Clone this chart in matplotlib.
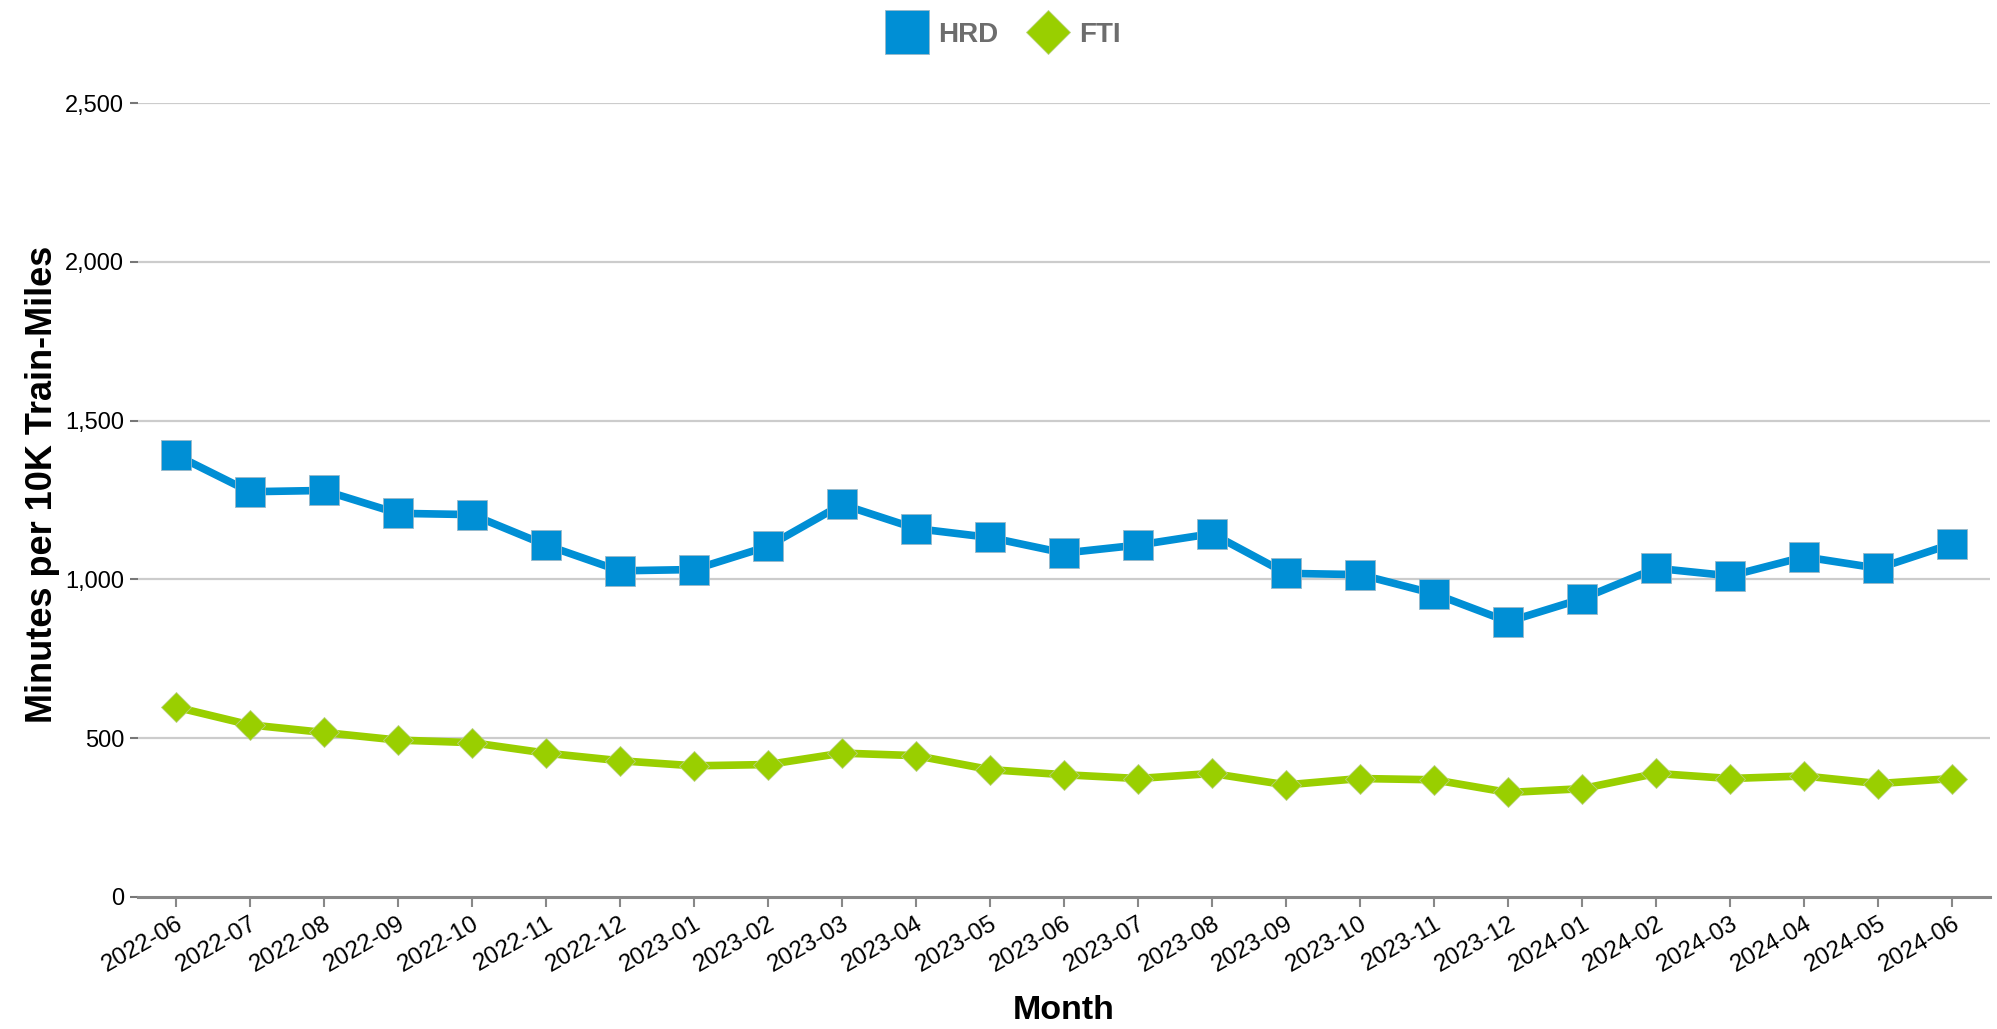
import numpy as np
import matplotlib.pyplot as plt
from matplotlib.ticker import FuncFormatter

plt.rcParams['font.family'] = ['Liberation Sans', 'DejaVu Sans']

months = ["2022-06", "2022-07", "2022-08", "2022-09", "2022-10", "2022-11",
          "2022-12", "2023-01", "2023-02", "2023-03", "2023-04", "2023-05",
          "2023-06", "2023-07", "2023-08", "2023-09", "2023-10", "2023-11",
          "2023-12", "2024-01", "2024-02", "2024-03", "2024-04", "2024-05",
          "2024-06"]
hrd = [1392, 1276, 1280, 1208, 1204, 1108, 1027, 1031, 1104, 1236, 1160, 1132,
       1083, 1108, 1144, 1019, 1015, 955, 867, 939, 1035, 1011, 1071, 1035, 1112]
fti = [598, 542, 518, 494, 486, 453, 429, 413, 417, 453, 445, 401,
       385, 373, 389, 353, 373, 369, 329, 341, 389, 373, 381, 357, 373]

hrd_color = "#008fd5"
fti_color = "#99cf00"

fig = plt.figure(figsize=(19.97, 10.29), dpi=100)
ax = fig.add_axes([0.0691, 0.1283, 0.9274, 0.7716])

x = np.arange(len(months))
ax.plot(x, hrd, color=hrd_color, lw=5.5, marker="s", ms=21,
        markeredgecolor="#9ab8c8", markeredgewidth=0.6, label="HRD", zorder=3)
ax.plot(x, fti, color=fti_color, lw=5.5, marker="D", ms=15,
        markeredgecolor="#b8d080", markeredgewidth=0.6, label="FTI", zorder=3)

ax.set_xlim(-0.51, len(months) - 0.49)
ax.set_ylim(0, 2500)
ax.set_yticks([0, 500, 1000, 1500, 2000, 2500])
ax.yaxis.set_major_formatter(FuncFormatter(lambda v, p: f"{int(v):,}"))
ax.set_xticks(x)
ax.set_xticklabels(months, rotation=30, ha="right", rotation_mode="anchor")

for v in [500, 1000, 1500, 2000, 2500]:
    ax.axhline(v, color="#cccccc", lw=1.6, zorder=1)

for s in ["top", "right", "left"]:
    ax.spines[s].set_visible(False)
ax.spines["bottom"].set_color("#888888")
ax.spines["bottom"].set_linewidth(2.2)

ax.tick_params(axis="y", length=6, width=1.5, color="#777777", labelsize=17, pad=4)
ax.tick_params(axis="x", length=7, width=1.5, color="#888888", labelsize=17.5, pad=4)

ax.set_ylabel("Minutes per 10K Train-Miles", fontsize=26, fontweight="bold")
ax.yaxis.set_label_coords(-0.042, 0.52)
ax.set_xlabel("Month", fontsize=24.5, fontweight="bold", labelpad=14)

leg = fig.legend(loc="center", bbox_to_anchor=(0.5035, 0.966), ncol=2, frameon=False,
                 fontsize=20, handlelength=1.2, handletextpad=0.5, columnspacing=1.2)
for t in leg.get_texts():
    t.set_color("#6d6d6d")
    t.set_fontweight("bold")
for h in leg.legend_handles:
    h.set_linestyle("none")
leg.legend_handles[0].set_markersize(32)
leg.legend_handles[1].set_markersize(22)

fig.savefig("out.png", dpi=100)
